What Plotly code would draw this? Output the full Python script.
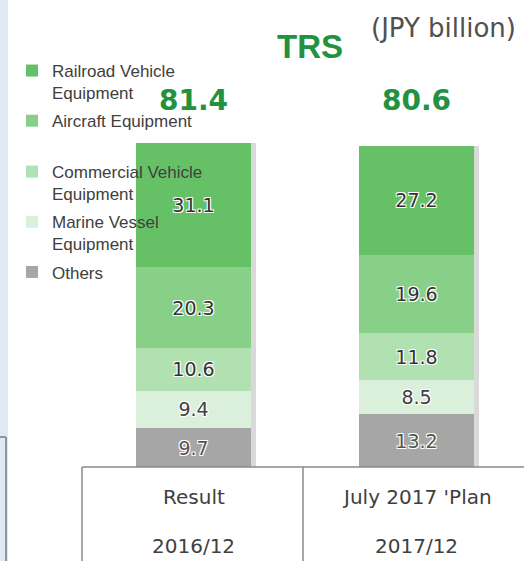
import plotly.graph_objects as go

# ---- data ----
years = ["2016/12", "2017/12"]
period_labels = ["Result", "July 2017 'Plan"]
segments = ["Others", "Marine Vessel<br>Equipment", "Commercial Vehicle<br>Equipment",
            "Aircraft Equipment", "Railroad Vehicle<br>Equipment"]
others = [9.7, 13.2]
marine = [9.4, 8.5]
commercial = [10.6, 11.8]
aircraft = [20.3, 19.6]
railroad = [31.1, 27.2]
totals = [81.4, 80.6]

series_values = [others, marine, commercial, aircraft, railroad]
colors = ["#A6A6A6", "#DAF0DA", "#B1E1B1", "#88D088", "#66C166"]
legend_ids = ["legend2", "legend2", "legend2", "legend", "legend"]
ranks = [5, 4, 3, 2, 1]
label_colors = ["#555555", "#404040", "#333333", "#333333", "#333333"]

W, H = 524, 561
plot_bottom = 467
px_per_unit = 4.0
y_max = plot_bottom / px_per_unit
c0, step = 193.5, 223.0
x_range = [-c0 / step, (W - c0) / step]
bar_w = 0.516


def py(p):
    """pixel row -> paper y"""
    return (plot_bottom - p) / plot_bottom


outline = ("1px 1px 0px #ffffff, -1px -1px 0px #ffffff, "
           "1px -1px 0px #ffffff, -1px 1px 0px #ffffff")

fig = go.Figure()

# soft drop shadow behind the stacks (separate subplot so it does not stack)
seg_sums = [sum(v[i] for v in series_values) for i in range(len(years))]
fig.add_trace(go.Bar(x=years, y=seg_sums, width=bar_w, offset=-bar_w / 2 + 0.022,
                     marker=dict(color="rgba(0,0,0,0.15)", line_width=0),
                     showlegend=False, hoverinfo="skip", xaxis="x", yaxis="y"))

for name, vals, col, lg, rk, lc in zip(segments, series_values, colors, legend_ids, ranks,
                                       label_colors):
    fig.add_trace(go.Bar(
        x=years, y=vals, name=name, legend=lg, legendgroup=f"g{rk}", legendrank=rk,
        marker=dict(color=col, line_width=0),
        width=bar_w,
        text=[f"{v:.1f}" for v in vals],
        textposition="inside", insidetextanchor="middle", textangle=0,
        textfont=dict(family="DejaVu Sans", size=19, color=lc, shadow=outline),
        xaxis="x2", yaxis="y",
    ))

annotations = []
for yr, tot in zip(years, totals):
    annotations.append(dict(x=yr, y=91.75, xref="x2", yref="y", text=f"<b>{tot:.1f}</b>",
                            showarrow=False, xanchor="center", yanchor="middle",
                            font=dict(family="DejaVu Sans", size=28, color="#229140")))
for yr, lab in zip(years, period_labels):
    annotations.append(dict(x=yr, y=py(497), xref="x2", yref="paper",
                            text=lab, showarrow=False, xanchor="center", yanchor="middle",
                            font=dict(family="DejaVu Sans", size=20, color="#404040")))
    annotations.append(dict(x=yr, y=py(546), xref="x2", yref="paper",
                            text=yr, showarrow=False, xanchor="center", yanchor="middle",
                            font=dict(family="DejaVu Sans", size=20, color="#404040")))
annotations.append(dict(x=310 / W, y=py(47), xref="paper", yref="paper",
                        text="<b>TRS</b>", showarrow=False, xanchor="center", yanchor="middle",
                        font=dict(family="Liberation Sans", size=33, color="#229140")))
annotations.append(dict(x=443 / W, y=py(28), xref="paper", yref="paper",
                        text="(JPY billion)", showarrow=False, xanchor="center",
                        yanchor="middle",
                        font=dict(family="DejaVu Sans", size=26, color="#505050")))

line_col = "#8A8A8A"
pb = py(H)
shapes = [
    # left decorative strip
    dict(type="rect", xref="paper", yref="paper", x0=0, x1=8 / W, y0=pb, y1=1,
         fillcolor="#E0E8F6", line_width=0, layer="below"),
    dict(type="line", xref="paper", yref="paper", x0=0, x1=6 / W,
         y0=py(437), y1=py(437), line=dict(color="#8C96A3", width=2)),
    dict(type="line", xref="paper", yref="paper", x0=6 / W, x1=6 / W,
         y0=py(437), y1=pb, line=dict(color="#8C96A3", width=2)),
    # table lines
    dict(type="line", xref="paper", yref="paper", x0=82 / W, x1=1, y0=0, y1=0,
         line=dict(color=line_col, width=1.5)),
    dict(type="line", xref="paper", yref="paper", x0=82 / W, x1=82 / W, y0=0, y1=pb,
         line=dict(color=line_col, width=1.5)),
    dict(type="line", xref="paper", yref="paper", x0=303 / W, x1=303 / W, y0=0, y1=pb,
         line=dict(color=line_col, width=1.5)),
]

legend_common = dict(xanchor="left", yanchor="top", traceorder="grouped",
                     tracegroupgap=3, valign="top",
                     font=dict(family="Liberation Sans", size=17, color="#404040"),
                     bgcolor="rgba(0,0,0,0)", itemclick=False, itemdoubleclick=False)

fig.update_layout(
    width=W, height=H,
    margin=dict(l=0, r=0, t=0, b=H - plot_bottom, pad=0),
    paper_bgcolor="white", plot_bgcolor="rgba(0,0,0,0)",
    barmode="stack",
    xaxis=dict(type="category", range=x_range, visible=False, categoryorder="array",
               categoryarray=years),
    xaxis2=dict(type="category", range=x_range, visible=False, overlaying="x",
                categoryorder="array", categoryarray=years),
    yaxis=dict(range=[0, y_max], visible=False),
    showlegend=True,
    legend=dict(x=12 / W, y=py(53), **legend_common),
    legend2=dict(x=12 / W, y=py(154), **legend_common),
    annotations=annotations,
    shapes=shapes,
)

fig.write_html("out.html",
               config={"displayModeBar": False},
               post_script="document.body.style.margin='0px';"
                           "document.body.style.overflow='hidden';")
